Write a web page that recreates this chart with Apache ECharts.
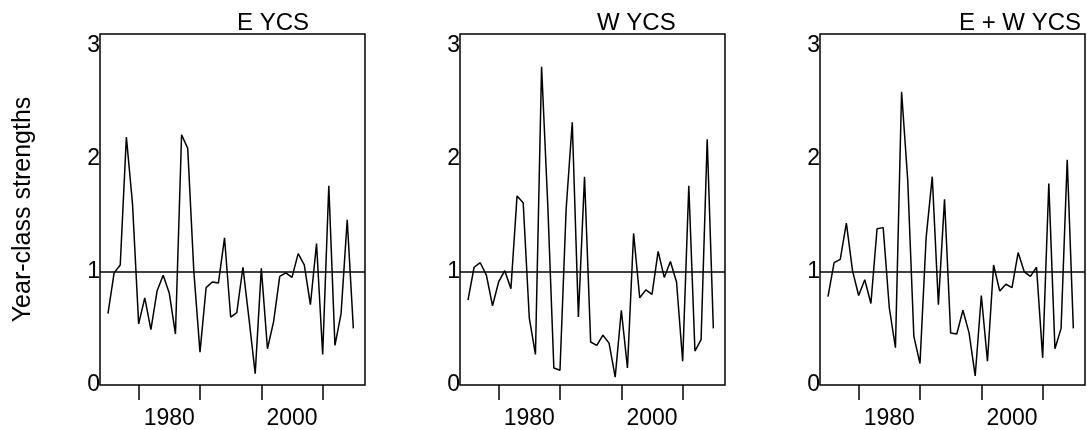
<!DOCTYPE html>
<html>
<head>
<meta charset="utf-8">
<title>Year-class strengths</title>
<script src="https://cdn.jsdelivr.net/npm/echarts@6/dist/echarts.min.js"></script>
<style>
  html, body { margin: 0; padding: 0; background: #fff; }
  #chart { width: 1087px; height: 430px; }
</style>
</head>
<body>
<div id="chart"></div>
<script>
// Year classes on the x axis
const years = [
  1970, 1971, 1972, 1973, 1974, 1975, 1976, 1977, 1978, 1979,
  1980, 1981, 1982, 1983, 1984, 1985, 1986, 1987, 1988, 1989,
  1990, 1991, 1992, 1993, 1994, 1995, 1996, 1997, 1998, 1999,
  2000, 2001, 2002, 2003, 2004, 2005, 2006, 2007, 2008, 2009,
  2010
];

// Year-class strengths
const eYcs = [
  0.63, 0.99, 1.06, 2.19, 1.60, 0.54, 0.77, 0.49, 0.83, 0.97,
  0.81, 0.45, 2.21, 2.09, 1.00, 0.29, 0.86, 0.91, 0.90, 1.30,
  0.60, 0.64, 1.04, 0.58, 0.10, 1.03, 0.32, 0.56, 0.96, 0.99,
  0.95, 1.16, 1.06, 0.71, 1.25, 0.27, 1.76, 0.35, 0.63, 1.46,
  0.50
];
const wYcs = [
  0.75, 1.04, 1.08, 0.97, 0.70, 0.91, 1.01, 0.85, 1.67, 1.61,
  0.59, 0.27, 2.81, 1.60, 0.15, 0.13, 1.55, 2.32, 0.60, 1.84,
  0.38, 0.35, 0.44, 0.37, 0.07, 0.66, 0.15, 1.34, 0.77, 0.84,
  0.80, 1.18, 0.95, 1.09, 0.91, 0.21, 1.76, 0.30, 0.40, 2.17,
  0.50
];
const ewYcs = [
  0.78, 1.08, 1.11, 1.43, 1.01, 0.79, 0.93, 0.72, 1.38, 1.39,
  0.68, 0.33, 2.59, 1.81, 0.43, 0.19, 1.30, 1.84, 0.71, 1.64,
  0.46, 0.45, 0.66, 0.46, 0.08, 0.79, 0.21, 1.06, 0.83, 0.89,
  0.86, 1.17, 1.00, 0.96, 1.04, 0.24, 1.78, 0.32, 0.50, 1.99,
  0.50
];

const panelTitles = ['E YCS', 'W YCS', 'E + W YCS'];
const xTickValues = [1975, 1985, 1995, 2005];
const xLabelValues = [1980, 2000];
const yTickValues = [0, 1, 2, 3];
const refLevel = 1;

function initChart() {
  const chartDom = document.getElementById('chart');
  const myChart = echarts.init(chartDom, null, { renderer: 'canvas' });

  const font = "'Liberation Sans', Arial, sans-serif";
  const panels = [eYcs, wYcs, ewYcs];
  const panelLeft = [100, 460, 820];
  const titleLeft = [232, 592, 954];

  const grids = [];
  const xAxes = [];
  const yAxes = [];
  const series = [];
  const titles = [];

  panels.forEach((values, i) => {
    grids.push({
      left: panelLeft[i],
      top: 34,
      width: 265,
      height: 351,
      show: true,
      borderColor: '#000',
      borderWidth: 1.5,
      backgroundColor: 'transparent'
    });

    xAxes.push({
      type: 'value',
      gridIndex: i,
      min: 1968.7,
      max: 2011.9,
      axisLine: { show: false },
      axisTick: {
        show: true,
        customValues: xTickValues,
        length: 15,
        lineStyle: { color: '#000', width: 1.5 }
      },
      axisLabel: {
        customValues: xLabelValues,
        margin: 22,
        fontSize: 23,
        color: '#000',
        fontFamily: font,
        formatter: (v) => String(v)
      },
      splitLine: { show: false }
    });

    yAxes.push({
      type: 'value',
      gridIndex: i,
      min: 0,
      max: 3.1,
      axisLine: { show: false },
      axisTick: { show: false },
      axisLabel: {
        customValues: yTickValues,
        margin: 0,
        fontSize: 23,
        color: '#000',
        fontFamily: font,
        padding: [7, 0, 0, 0],
        formatter: (v) => String(v)
      },
      splitLine: { show: false },
      name: i === 0 ? 'Year-class strengths' : '',
      nameLocation: 'middle',
      nameRotate: 90,
      nameGap: 64,
      nameTextStyle: { fontSize: 25, color: '#000', fontFamily: font }
    });

    series.push({
      type: 'line',
      xAxisIndex: i,
      yAxisIndex: i,
      data: years.map((y, k) => [y, values[k]]),
      symbol: 'none',
      lineStyle: { color: '#000', width: 1.5 },
      markLine: {
        silent: true,
        symbol: 'none',
        label: { show: false },
        lineStyle: { color: '#000', width: 1.5, type: 'solid' },
        data: [{ yAxis: refLevel }]
      }
    });

    titles.push({
      text: panelTitles[i],
      left: titleLeft[i],
      top: 6,
      textStyle: { fontSize: 24, fontWeight: 'normal', color: '#000', fontFamily: font }
    });
  });

  const option = {
    animation: false,
    backgroundColor: '#fff',
    title: titles,
    grid: grids,
    xAxis: xAxes,
    yAxis: yAxes,
    series: series
  };
  myChart.setOption(option);
}

document.addEventListener('DOMContentLoaded', function () {
  initChart();
});
</script>
</body>
</html>
